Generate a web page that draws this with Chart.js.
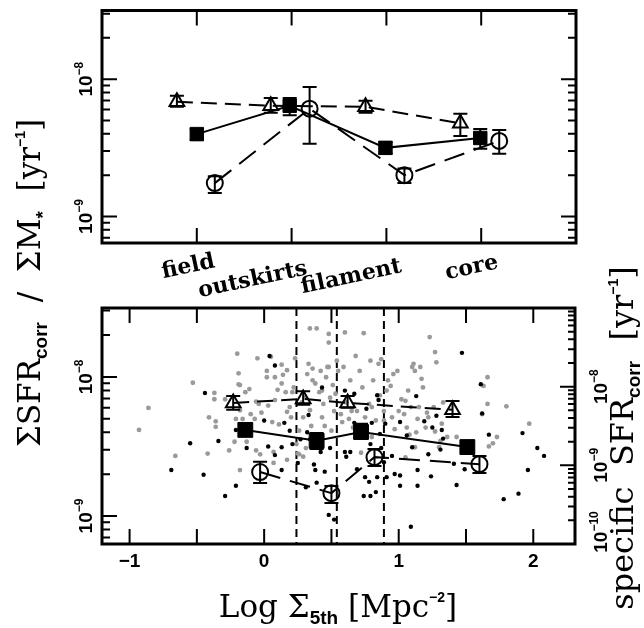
<!DOCTYPE html>
<html><head><meta charset="utf-8">
<script src="https://cdn.jsdelivr.net/npm/chart.js@4.4.1/dist/chart.umd.min.js"></script>
<style>
html,body{margin:0;padding:0;background:#fff;}
#wrap{position:relative;width:644px;height:628px;overflow:hidden;}
canvas{position:absolute;left:0;top:0;}
</style>
</head><body>
<div id="wrap"><canvas id="c1" width="644" height="628"></canvas><canvas id="c2" width="644" height="628"></canvas></div>
<script>
// ---------------- DATA ----------------
// Top panel: environment categories
const categories = ['field', 'outskirts', 'filament', 'core'];
const topTriX  = [0.79, 1.78, 2.78, 3.78];
const topTriY  = [6.85e-9, 6.4e-9, 6.3e-9, 4.77e-9];
const topTriLo = [6.3e-9, 5.7e-9, 5.7e-9, 3.85e-9];
const topTriHi = [7.56e-9, 7.3e-9, 6.95e-9, 5.6e-9];
const topSqX  = [1.0, 1.98, 2.99, 3.99];
const topSqY  = [3.98e-9, 6.4e-9, 3.16e-9, 3.73e-9];
const topSqLo = [3.6e-9, 5.45e-9, 2.86e-9, 3.11e-9];
const topSqHi = [4.33e-9, 7.3e-9, 3.49e-9, 4.33e-9];
const topCircX  = [1.19, 2.19, 3.19, 4.19];
const topCircY  = [1.75e-9, 6.1e-9, 2.0e-9, 3.55e-9];
const topCircLo = [1.48e-9, 3.38e-9, 1.75e-9, 2.86e-9];
const topCircHi = [1.96e-9, 8.77e-9, 2.24e-9, 4.26e-9];

// Bottom panel: binned in Log Sigma_5th
const botTriX  = [-0.23, 0.29, 0.62, 1.40];
const botTriY  = [6.5e-9, 6.95e-9, 6.5e-9, 5.8e-9];
const botTriLo = [5.8e-9, 6.3e-9, 6.0e-9, 5.15e-9];
const botTriHi = [7.3e-9, 7.9e-9, 7.3e-9, 6.7e-9];
const botSqX  = [-0.14, 0.39, 0.72, 1.51];
const botSqY  = [4.16e-9, 3.47e-9, 4.02e-9, 3.13e-9];
const botSqLo = [3.77e-9, 3.03e-9, 3.6e-9, 2.79e-9];
const botSqHi = [4.6e-9, 3.95e-9, 4.6e-9, 3.47e-9];
const botCircX  = [-0.03, 0.50, 0.82, 1.60];
const botCircY  = [2.07e-9, 1.46e-9, 2.65e-9, 2.36e-9];
const botCircLo = [1.73e-9, 1.24e-9, 2.29e-9, 2.04e-9];
const botCircHi = [2.45e-9, 1.64e-9, 3.03e-9, 2.7e-9];

// density thresholds (vertical dashed lines)
const densityCuts = [0.24, 0.54, 0.89];

// individual galaxies: Log Sigma_5th and log10 specific SFR
const grayX = [-0.93,-0.86,-0.66,-0.53,-0.41,-0.37,-0.37,-0.36,-0.36,-0.29,
 -0.20,-0.19,-0.19,-0.18,-0.11,-0.14,-0.10,-0.07,-0.05,-0.04,
 -0.02,0.05,0.02,0.08,0.13,0.17,0.23,0.14,0.13,0.10,
 0.16,0.21,0.08,0.03,-0.06,-0.18,-0.16,-0.21,0.06,0.11,
 0.17,0.20,0.34,0.39,0.48,0.48,0.36,0.48,0.46,0.36,
 0.38,0.41,0.51,0.53,0.34,0.43,0.29,0.35,0.37,0.26,
 0.24,0.26,0.45,0.50,0.52,0.60,0.74,0.68,0.59,0.55,
 0.64,0.61,0.63,0.65,0.57,0.58,0.66,0.69,0.71,0.73,
 0.75,0.78,0.79,0.80,0.81,0.83,0.85,0.86,0.87,0.89,
 0.91,0.92,0.95,0.96,0.99,1.00,1.02,1.04,1.05,1.07,
 1.09,1.10,1.11,1.12,1.14,1.15,1.16,1.17,1.18,1.21,
 1.22,1.23,1.27,1.28,1.26,1.32,1.33,1.30,1.31,1.36,
 1.08,1.13,1.12,1.27,1.43,1.62,1.63,1.66,1.66,1.67,
 1.70,1.73,1.80,1.97,1.05,0.72,0.80,-0.42,-0.26,-0.22,
 -0.13,-0.06,-0.03,0.07,0.17,0.07,-0.18,0.25,0.29,0.31,
 0.19,0.22,0.28,0.30,0.32,0.33,0.42,0.43,0.44,0.47,
 0.54,0.49,0.89,0.94,0.97,1.06,1.20,0.02];
const grayLogSSFR = [-8.55,-8.27,-8.88,-7.95,-8.39,-8.16,-8.08,-8.44,-8.51,-8.16,
 -7.58,-7.83,-7.97,-7.98,-8.03,-8.07,-8.35,-8.41,-7.64,-8.22,
 -8.33,-7.62,-7.88,-7.88,-7.72,-7.79,-7.64,-7.85,-7.96,-8.04,
 -8.07,-8.07,-8.17,-8.24,-8.19,-8.30,-8.41,-8.41,-8.45,-8.48,
 -8.32,-8.39,-7.26,-7.26,-7.33,-7.44,-7.77,-7.75,-7.88,-7.92,
 -7.96,-8.07,-7.98,-8.09,-8.30,-8.39,-8.39,-8.50,-8.64,-8.56,
 -8.73,-8.86,-8.50,-8.56,-8.31,-7.31,-7.32,-7.61,-7.75,-7.80,
 -7.92,-8.20,-8.41,-8.31,-8.35,-8.45,-8.52,-8.31,-7.80,-8.01,
 -8.39,-8.22,-7.67,-8.26,-7.92,-8.43,-7.71,-8.11,-7.65,-8.31,
 -8.05,-7.92,-8.39,-7.84,-7.80,-8.31,-8.16,-8.35,-8.18,-8.05,
 -8.26,-7.75,-7.71,-7.80,-8.41,-8.26,-7.75,-7.90,-8.01,-8.33,
 -8.39,-7.37,-7.56,-7.69,-8.26,-8.47,-8.20,-8.77,-8.69,-8.64,
 -8.61,-8.58,-8.77,-8.57,-8.64,-8.35,-7.99,-7.88,-8.22,-8.76,
 -8.72,-8.64,-8.25,-8.47,-8.90,-8.84,-8.64,-8.85,-8.81,-8.70,
 -8.70,-8.81,-8.86,-8.83,-8.93,-8.97,-9.06,-8.85,-8.89,-8.78,
 -8.26,-8.01,-8.20,-8.14,-7.84,-7.71,-7.80,-8.05,-8.22,-7.75,
 -7.67,-8.14,-8.43,-7.99,-8.54,-8.52,-8.52,-7.80];
const blackX = [-0.69,-0.55,-0.45,-0.44,-0.34,-0.29,-0.21,-0.13,-0.21,0.03,
 0.08,0.13,0.13,0.21,0.25,0.31,0.37,0.38,0.45,0.39,
 0.49,0.48,0.52,0.32,0.42,0.08,0.43,0.33,0.15,1.47,
 1.61,1.62,1.13,0.84,0.85,0.76,0.60,0.67,0.67,0.80,
 1.01,1.19,1.01,1.01,1.14,1.14,1.24,1.22,1.31,1.33,
 1.32,1.43,1.49,1.67,1.92,2.03,2.08,1.96,1.78,1.89,
 1.09,0.95,0.74,0.79,0.83,0.75,0.78,0.84,0.87,0.60,
 0.64,0.61,0.86,0.27,0.34,0.69,0.71,0.79,0.89,0.90,
 0.91,0.97,1.06,1.10,1.25,1.28,1.41,0.19,0.00,-0.13,0.04];
const blackLogSSFR = [-9.06,-8.72,-9.12,-8.08,-8.69,-9.39,-9.26,-8.78,-8.55,-8.76,
 -8.87,-8.77,-9.06,-8.73,-8.97,-9.28,-8.99,-9.06,-9.08,-9.22,
 -8.78,-9.63,-9.69,-8.58,-8.83,-7.73,-8.01,-8.36,-8.46,-7.57,
 -7.97,-8.34,-8.12,-8.11,-8.17,-8.28,-8.05,-8.09,-8.46,-8.46,
 -8.45,-8.44,-9.13,-9.26,-9.26,-9.06,-9.14,-8.86,-8.80,-8.66,
 -8.55,-9.25,-9.05,-8.61,-8.59,-8.78,-8.88,-9.06,-9.43,-9.36,
 -9.78,-8.88,-9.39,-9.39,-9.34,-9.15,-9.21,-9.15,-8.78,-8.83,
 -8.83,-8.89,-8.60,-8.67,-8.67,-9.05,-8.56,-8.73,-8.96,-8.47,
 -9.15,-9.11,-8.62,-8.77,-8.52,-8.37,-8.98,-8.56,-8.43,-8.53,-7.61];

// axis ticks / labels
const topXTicks = [1, 2, 3, 4];
const botXTicks = [-1, -0.5, 0, 0.5, 1, 1.5, 2];
const botXLabels = [-1, 0, 1, 2];
const leftDecades = [1e-9, 1e-8];
const rightDecades = [1e-10, 1e-9, 1e-8, 1e-7];

// ---------------- STYLE / LAYOUT ----------------
const SERIF = '"DejaVu Serif", serif';
const SANS = '"Liberation Sans", Arial, sans-serif';
const catLabelPos = [[0.91, 24], [1.59, 37], [2.63, 34], [3.90, 25]]; // x-value, px below axis

function pts(X, Y, LO, HI) { return X.map((x, i) => ({x: x, y: Y[i], lo: LO ? LO[i] : undefined, hi: HI ? HI[i] : undefined})); }
function logPts(X, L) { return X.map((x, i) => ({x: x, y: Math.pow(10, L[i])})); }

function minorTicks(min, max) {
  const out = [];
  for (let k = Math.floor(Math.log10(min)) - 1; k <= Math.ceil(Math.log10(max)); k++) {
    for (let m = 2; m <= 9; m++) { const v = m * Math.pow(10, k); if (v > min && v < max) out.push(v); }
  }
  return out;
}
function expLabel(v) {
  const e = Math.round(Math.log10(v));
  return '−' + Math.abs(e);
}
function drawRuns(ctx, runs, x, y, angle, align) {
  ctx.save();
  ctx.translate(x, y); ctx.rotate(angle);
  let W = 0;
  for (const r of runs) { ctx.font = r.font; W += ctx.measureText(r.t).width; }
  let cx = align === 'center' ? -W / 2 : (align === 'right' ? -W : 0);
  ctx.textBaseline = 'alphabetic'; ctx.textAlign = 'left'; ctx.fillStyle = '#000';
  for (const r of runs) { ctx.font = r.font; ctx.fillText(r.t, cx, r.dy || 0); cx += ctx.measureText(r.t).width; }
  ctx.restore();
}
function decadeRuns(v) {
  return [{t: '10', font: 'bold 19px ' + SANS}, {t: expLabel(v), font: 'bold 12px ' + SANS, dy: -9}];
}
function yTicks(ctx, scale, area, side, majors, majLen, minLen) {
  const x0 = side === 'left' ? area.left : area.right;
  const dir = side === 'left' ? 1 : -1;
  const minors = minorTicks(scale.min, scale.max);
  ctx.beginPath();
  for (const v of majors) { const y = scale.getPixelForValue(v); if (y < area.top - 0.5 || y > area.bottom + 0.5) continue; ctx.moveTo(x0, y); ctx.lineTo(x0 + dir * majLen, y); }
  for (const v of minors) { const y = scale.getPixelForValue(v); ctx.moveTo(x0, y); ctx.lineTo(x0 + dir * minLen, y); }
  ctx.stroke();
}
function xTicks(ctx, scale, area, ticks, len) {
  ctx.beginPath();
  for (const v of ticks) {
    const x = scale.getPixelForValue(v);
    ctx.moveTo(x, area.bottom); ctx.lineTo(x, area.bottom - len);
    ctx.moveTo(x, area.top); ctx.lineTo(x, area.top + len);
  }
  ctx.stroke();
}

const errorBarPlugin = {
  id: 'errbars',
  afterDatasetsDraw(chart) {
    const ctx = chart.ctx;
    ctx.save(); ctx.strokeStyle = '#000'; ctx.lineWidth = 2; ctx.setLineDash([]);
    chart.data.datasets.forEach((ds, di) => {
      if (!ds.errorBars) return;
      const meta = chart.getDatasetMeta(di);
      const xs = chart.scales[meta.xAxisID], ys = chart.scales[meta.yAxisID];
      ds.data.forEach(p => {
        const x = xs.getPixelForValue(p.x);
        const y1 = ys.getPixelForValue(p.lo), y2 = ys.getPixelForValue(p.hi);
        ctx.beginPath();
        ctx.moveTo(x, y1); ctx.lineTo(x, y2);
        ctx.moveTo(x - 7, y1); ctx.lineTo(x + 7, y1);
        ctx.moveTo(x - 7, y2); ctx.lineTo(x + 7, y2);
        ctx.stroke();
      });
    });
    ctx.restore();
  }
};

function seriesSets(triX, triY, triLo, triHi, sqX, sqY, sqLo, sqHi, cX, cY, cLo, cHi, sqR) {
  return [
    {data: pts(triX, triY, triLo, triHi), errorBars: true, showLine: true, borderColor: '#000', borderWidth: 2,
     borderDash: [16, 8], pointStyle: 'triangle', pointRadius: 8.5, pointBorderWidth: 2,
     pointBackgroundColor: 'rgba(0,0,0,0)', pointBorderColor: '#000', order: 2},
    {data: pts(sqX, sqY, sqLo, sqHi), errorBars: true, showLine: true, borderColor: '#000', borderWidth: 2,
     pointStyle: 'rect', pointRadius: sqR, pointBorderWidth: 1, pointBackgroundColor: '#000', pointBorderColor: '#000', order: 1},
    {data: pts(cX, cY, cLo, cHi), errorBars: true, showLine: true, borderColor: '#000', borderWidth: 2,
     borderDash: [21, 10], pointStyle: 'circle', pointRadius: 8, pointBorderWidth: 2,
     pointBackgroundColor: 'rgba(0,0,0,0)', pointBorderColor: '#000', order: 3}
  ];
}

// ---------------- TOP PANEL ----------------
const topPlugin = {
  id: 'topDeco',
  afterDraw(chart) {
    const ctx = chart.ctx, a = chart.chartArea, xs = chart.scales.x, ys = chart.scales.y;
    ctx.save(); ctx.strokeStyle = '#000'; ctx.setLineDash([]);
    ctx.lineWidth = 2;
    xTicks(ctx, xs, a, topXTicks, 15);
    yTicks(ctx, ys, a, 'left', leftDecades, 15, 8);
    yTicks(ctx, ys, a, 'right', leftDecades, 15, 8);
    ctx.lineWidth = 3;
    ctx.strokeRect(a.left, a.top, a.right - a.left, a.bottom - a.top);
    for (const v of leftDecades) drawRuns(ctx, decadeRuns(v), 92, ys.getPixelForValue(v), -Math.PI / 2, 'center');
    ctx.font = 'bold 22px ' + SERIF; ctx.fillStyle = '#000';
    categories.forEach((c, i) => {
      ctx.save();
      ctx.translate(xs.getPixelForValue(catLabelPos[i][0]), a.bottom + catLabelPos[i][1]);
      ctx.rotate(-12 * Math.PI / 180);
      ctx.textAlign = 'center'; ctx.textBaseline = 'middle';
      ctx.fillText(c, 0, 0);
      ctx.restore();
    });
    // shared left title
    drawRuns(ctx, [
      {t: 'ΣSFR', font: '31px ' + SERIF},
      {t: 'corr', font: 'bold 19px ' + SANS, dy: 7},
      {t: '  /  ΣM', font: '31px ' + SERIF},
      {t: '*', font: 'bold 19px ' + SANS, dy: 9},
      {t: '  [yr', font: '31px ' + SERIF},
      {t: '−1', font: 'bold 14px ' + SANS, dy: -15},
      {t: ']', font: '31px ' + SERIF}
    ], 40, 283, -Math.PI / 2, 'center');
    ctx.restore();
  }
};

new Chart(document.getElementById('c1'), {
  type: 'scatter',
  data: {datasets: seriesSets(topTriX, topTriY, topTriLo, topTriHi, topSqX, topSqY, topSqLo, topSqHi, topCircX, topCircY, topCircLo, topCircHi, 9.5)},
  options: {
    responsive: false, animation: false, events: [],
    layout: {padding: {left: 102, right: 68, top: 6, bottom: 385}},
    plugins: {legend: {display: false}, tooltip: {enabled: false}},
    scales: {
      x: {type: 'linear', min: 0, max: 5, display: false},
      y: {type: 'logarithmic', min: 6.41e-10, max: 3.162e-8, display: false}
    }
  },
  plugins: [errorBarPlugin, topPlugin]
});

// ---------------- BOTTOM PANEL ----------------
const botPlugin = {
  id: 'botDeco',
  beforeDatasetsDraw(chart) {
    const ctx = chart.ctx, a = chart.chartArea, xs = chart.scales.x;
    ctx.save(); ctx.strokeStyle = '#000'; ctx.lineWidth = 2; ctx.setLineDash([8, 5]);
    for (const v of densityCuts) {
      const x = xs.getPixelForValue(v);
      ctx.beginPath(); ctx.moveTo(x, a.top); ctx.lineTo(x, a.bottom); ctx.stroke();
    }
    ctx.restore();
  },
  afterDraw(chart) {
    const ctx = chart.ctx, a = chart.chartArea, xs = chart.scales.x, ys = chart.scales.y, ys2 = chart.scales.y2;
    ctx.save(); ctx.strokeStyle = '#000'; ctx.setLineDash([]);
    ctx.lineWidth = 2;
    xTicks(ctx, xs, a, botXTicks, 15);
    yTicks(ctx, ys, a, 'left', leftDecades, 15, 8);
    yTicks(ctx, ys2, a, 'right', rightDecades, 15, 7);
    ctx.lineWidth = 3;
    ctx.strokeRect(a.left, a.top, a.right - a.left, a.bottom - a.top);
    ctx.fillStyle = '#000';
    ctx.font = 'bold 19px ' + SANS; ctx.textAlign = 'center'; ctx.textBaseline = 'middle';
    for (const v of botXLabels) ctx.fillText(v < 0 ? '−' + Math.abs(v) : String(v), xs.getPixelForValue(v), 562);
    for (const v of leftDecades) drawRuns(ctx, decadeRuns(v), 92, ys.getPixelForValue(v), -Math.PI / 2, 'center');
    for (const v of rightDecades) {
      const y = ys2.getPixelForValue(v);
      if (y < a.top + 5) continue;
      drawRuns(ctx, decadeRuns(v), 607, Math.min(y, a.bottom - 12), -Math.PI / 2, 'center');
    }
    drawRuns(ctx, [
      {t: 'Log Σ', font: '31px ' + SERIF},
      {t: '5th', font: 'bold 19px ' + SANS, dy: 7},
      {t: ' [Mpc', font: '31px ' + SERIF},
      {t: '−2', font: 'bold 14px ' + SANS, dy: -15},
      {t: ']', font: '31px ' + SERIF}
    ], 338, 617, 0, 'center');
    drawRuns(ctx, [
      {t: 'specific  SFR', font: '32px ' + SERIF},
      {t: 'corr', font: 'bold 19px ' + SANS, dy: 7},
      {t: '  [yr', font: '32px ' + SERIF},
      {t: '−1', font: 'bold 14px ' + SANS, dy: -15},
      {t: ']', font: '32px ' + SERIF}
    ], 633, 438, -Math.PI / 2, 'center');
    ctx.restore();
  }
};

const botSets = seriesSets(botTriX, botTriY, botTriLo, botTriHi, botSqX, botSqY, botSqLo, botSqHi, botCircX, botCircY, botCircLo, botCircHi, 10.5);
botSets.push({data: logPts(blackX, blackLogSSFR), yAxisID: 'y2', showLine: false, pointRadius: 2.2, pointBorderWidth: 0,
  pointBackgroundColor: '#000', order: 5});
botSets.push({data: logPts(grayX, grayLogSSFR), yAxisID: 'y2', showLine: false, pointRadius: 2.4, pointBorderWidth: 0,
  pointBackgroundColor: '#9a9a9a', order: 6});

new Chart(document.getElementById('c2'), {
  type: 'scatter',
  data: {datasets: botSets},
  options: {
    responsive: false, animation: false, events: [],
    layout: {padding: {left: 102, right: 69, top: 308, bottom: 84}},
    plugins: {legend: {display: false}, tooltip: {enabled: false}},
    scales: {
      x: {type: 'linear', min: -1.205, max: 2.31, display: false},
      y: {type: 'logarithmic', position: 'left', min: 6.29e-10, max: 3.13e-8, display: false},
      y2: {type: 'logarithmic', position: 'right', min: 1e-10, max: 1e-7, display: false}
    }
  },
  plugins: [errorBarPlugin, botPlugin]
});
</script>
</body></html>
